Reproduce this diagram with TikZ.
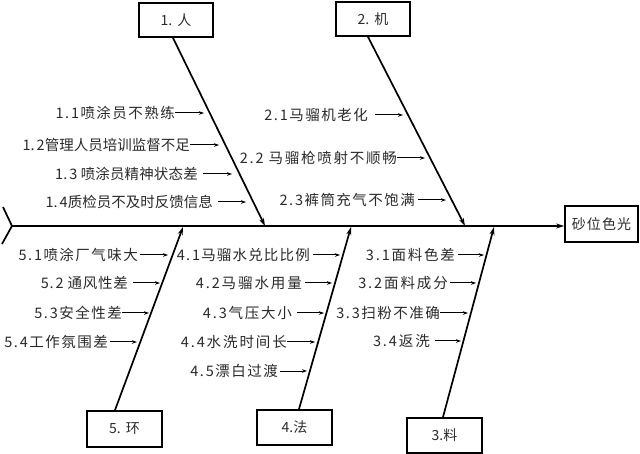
\documentclass[tikz,border=0pt]{standalone}
\usepackage{fontspec}
\setmainfont{Noto Sans CJK SC}
\newfontfamily\cjk{Noto Sans CJK SC}
\usetikzlibrary{arrows.meta,calc}
\definecolor{txt}{HTML}{2A2A2A}
\newcommand\trk[1]{\edef\mytmp{\noexpand\addfontfeatures{LetterSpace=#1}}\mytmp}
\begin{document}
\begin{tikzpicture}[x=1pt,y=-1pt,
  lbl/.style={anchor=east,inner sep=0pt,font=\cjk\fontsize{14.5}{16}\selectfont,text=txt},
  catbox/.style={draw,line width=1.8pt,minimum width=74pt,minimum height=34pt,inner sep=0pt,font=\cjk\fontsize{14}{16}\selectfont,text=txt},
  bone/.style={line width=1.7pt,-{Stealth[length=8pt,width=5pt]}},
  sub/.style={line width=1pt,-{Stealth[length=5pt,width=3.5pt]}}]
\useasboundingbox (0,0) rectangle (640,454);

% category boxes
\node[catbox] (b1) at (176,20) {1.\kern5pt 人};
\node[catbox] (b2) at (373,19) {2.\kern5pt 机};
\node[catbox,minimum width=75pt,minimum height=36pt] (b5) at (124.5,429) {5.\kern5pt 环};
\node[catbox,minimum width=75pt,minimum height=35pt] (b4) at (294.5,427.5) {4.法};
\node[catbox,minimum width=75pt,minimum height=35pt] (b3) at (444.5,435.5) {3.料};
\node[catbox,minimum width=73pt,minimum height=36pt] (eff) at (601.5,224) {\trk{8}砂位色光};

% spine
\coordinate (tailT) at (3,207);
\coordinate (tail) at (12,226);
\coordinate (tailB) at (2,244);
\draw[line width=1.7pt] (tailT) -- (tail) -- (tailB);
\draw[line width=1.7pt,-{Stealth[length=8pt,width=5pt]}] (tail) -- (eff.west |- tail);

% bone heads on spine
\coordinate (h1) at (265,226);
\coordinate (h2) at (465,226);
\coordinate (h5) at (183,227);
\coordinate (h4) at (351,227);
\coordinate (h3) at (494,227);
\draw[bone] ($(b1.south)+(-3,0)$) -- (h1);
\draw[bone] ($(b2.south)+(-5,0)$) -- (h2);
\draw[bone] ($(b5.north)+(-9.5,0)$) -- (h5);
\draw[bone] ($(b4.north)+(4.5,0)$) -- (h4);
\draw[bone] ($(b3.north)+(-1.5,0)$) -- (h3);

% causes: name / text end / arrow start gap / arrow end / y / tracking / text
\foreach \n/\tx/\g/\ex/\y/\ls/\t in {
  l11/175/0/204/113/10/{1.\kern2pt 1喷涂员不熟练},
  l12/190/0/219/145/0/{1.\kern2pt 2管理人员培训监督不足},
  l13/198/5/232/174/1/{1.\kern2pt 3 喷涂员精神状态差},
  l14/213/5/246/202/0/{1.\kern2pt 4质检员不及时反馈信息},
  l21/368/7/403/115/10/{2.\kern2pt 1马骝机老化},
  l22/397/0/425/158/12/{2.\kern2pt 2 马骝枪喷射不顺畅},
  l23/415/3/446/200/10/{2.\kern2pt 3裤筒充气不饱满},
  l51/138/2/168/255/10/{5.\kern2pt 1喷涂厂气味大},
  l52/128/5/160/283/5/{5.\kern2pt 2 通风性差},
  l53/122/0/149/313/10/{5.\kern2pt 3安全性差},
  l54/108/2/137/342/10/{5.\kern2pt 4工作氛围差},
  l41/310/3/340/255/8/{4.\kern2pt 1马骝水兑比比例},
  l42/302/3/332/283/13/{4.\kern2pt 2马骝水用量},
  l43/292/5/324/313/12/{4.\kern2pt 3气压大小},
  l44/287/0/315/342/13/{4.\kern2pt 4水洗时间长},
  l45/278/2/307/371/10/{4.\kern2pt 5漂白过渡},
  l31/455/3/484/255/12/{3.\kern2pt 1面料色差},
  l32/448/2/476/283/13/{3.\kern2pt 2面料成分},
  l33/440/0/468/313/10/{3.\kern2pt 3扫粉不准确},
  l34/430/5/461/341/13/{3.\kern2pt 4返洗}}
{
  \node[lbl] (\n) at (\tx,\y) {\trk{\ls}\t};
  \coordinate (\n e) at (\ex,\y);
  \draw[sub] ($(\n.east)+(\g,0)$) -- (\n e);
}
\end{tikzpicture}
\end{document}
